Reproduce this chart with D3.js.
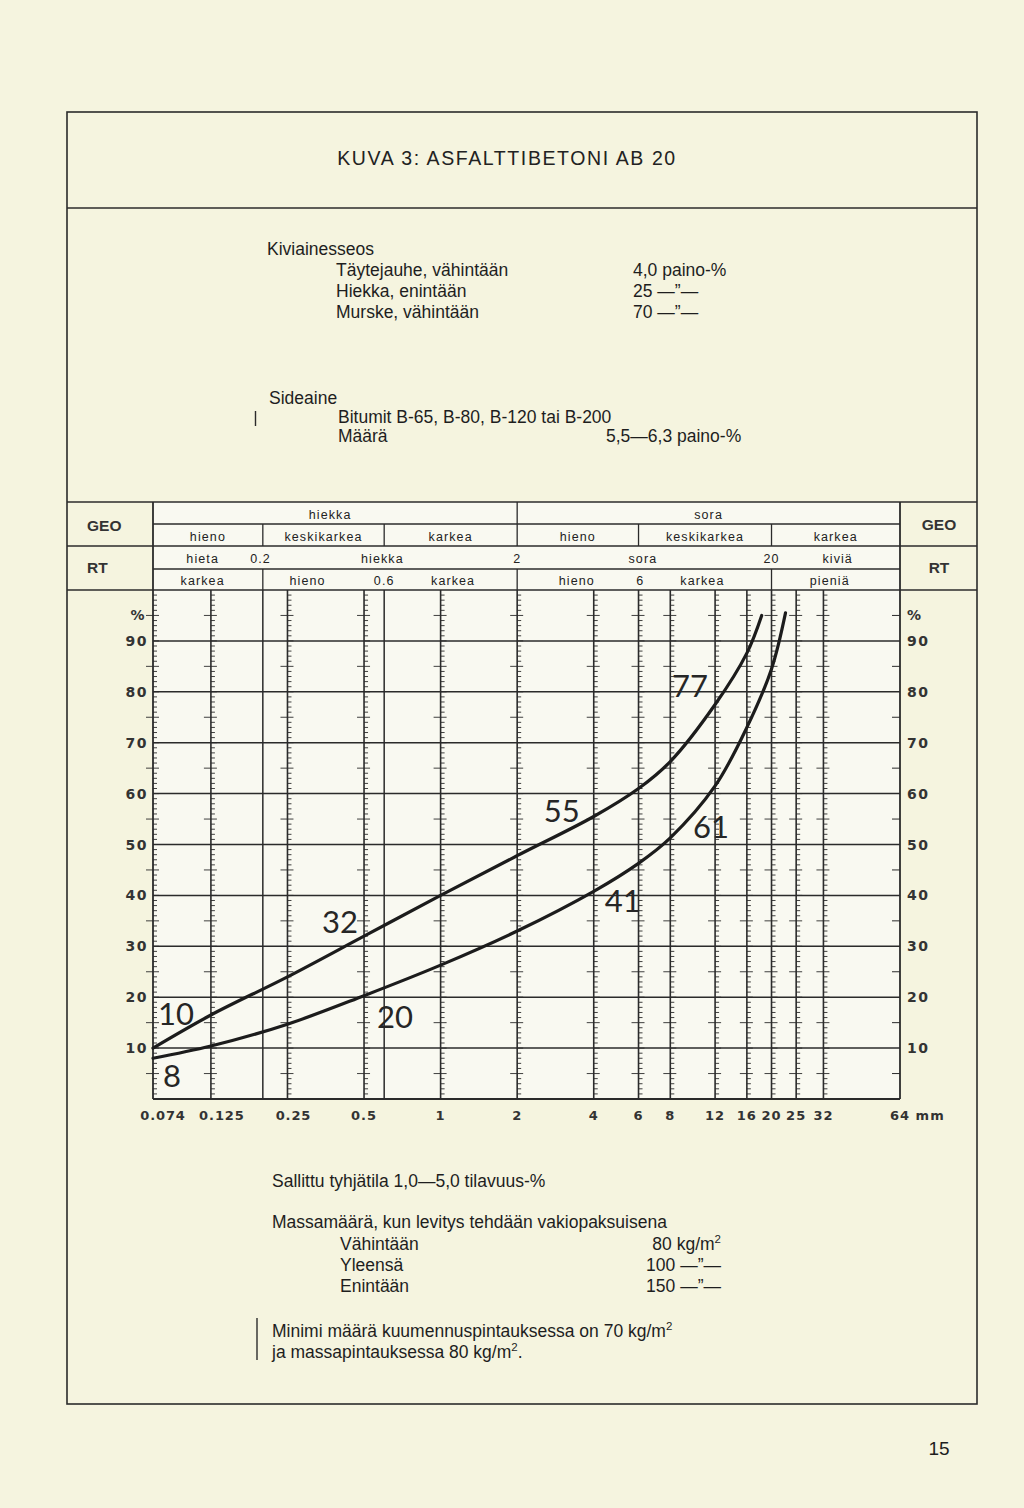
<!DOCTYPE html>
<html><head><meta charset="utf-8">
<script src="https://cdn.jsdelivr.net/npm/d3@7"></script>
<style>body{margin:0;background:#f5f4e0} svg{display:block}</style>
</head><body><svg id="c" width="1024" height="1508"></svg>
<script>
// ---------------- DATA ----------------
const sieveTicks = [0.074,0.125,0.25,0.5,1,2,4,6,8,12,16,20,25,32,64];
const sieveTickLabels = ["0.074","0.125","0.25","0.5","1","2","4","6","8","12","16","20","25","32","64 mm"];
const combSieves = [0.074,0.125,0.25,0.5,1,2,4,6,8,12,16,20,25,32];
const boundarySieves = [0.2,0.6];
const pctGrid = [10,20,30,40,50,60,70,80,90];
const pctLabels = ["10","20","30","40","50","60","70","80","90"];

const upperSizes = [0.074,0.125,0.25,0.5,1,2,4,6,8,12,16,18.3];
const upperPass  = [10,16.5,24,32,40,47.8,55.5,61,66.3,77.5,87.6,95];
const lowerSizes = [0.074,0.125,0.25,0.5,1,2,4,6,8,12,16,20,22.7];
const lowerPass  = [8,10.4,14.7,20.3,26.3,33,40.8,46.3,51.3,61.5,73,84.5,95.5];

const upperLabelSizes = [0.074,0.5,4,12];
const upperLabelTexts = ["10","32","55","77"];
const lowerLabelSizes = [0.074,0.5,4,12];
const lowerLabelTexts = ["8","20","41","61"];

// header table (GEO / RT)
const geoMainTexts = ["hiekka","sora"];
const geoMainBounds = [[0.074,2],[2,64]];
const geoSubTexts = ["hieno","keskikarkea","karkea","hieno","keskikarkea","karkea"];
const geoSubBounds = [0.074,0.2,0.6,2,6,20,64];
const rtTopTexts = ["hieta","0.2","hiekka","2","sora","20","kiviä"];
const rtTopAt    = [0.116,0.196,0.59,2,6.24,20,36.4];
const rtBotTexts = ["karkea","hieno","0.6","karkea","hieno","6","karkea","pieniä"];
const rtBotAt    = [0.116,0.30,0.6,1.12,3.43,6.1,10.7,33.9];
const rtBotDividers = [0.2,2,20];

// ---------------- LAYOUT ----------------
const svg = d3.select("#c");
const ink = "#2b2b2b";
const X0 = 153, X1 = 900, YB = 1099, YT = 590;
const x = d3.scaleLog().base(2).domain([0.074,64]).range([X0,X1]);
const y = d3.scaleLinear().domain([0,100]).range([YB,YT]);
const sans = "'Liberation Sans', Arial, Helvetica, sans-serif";
const geo = "'DejaVu Sans', Verdana, sans-serif";

svg.append("rect").attr("width",1024).attr("height",1508).attr("fill","#f5f4df");
svg.append("rect").attr("x",X0).attr("y",502).attr("width",X1-X0).attr("height",YB-502).attr("fill","#f9f9f1");

function line(x1,y1,x2,y2,w){ svg.append("line").attr("x1",x1).attr("y1",y1).attr("x2",x2).attr("y2",y2).attr("stroke",ink).attr("stroke-width",w||1.5); }

// page frame
const FL = 67, FR = 977, FT = 112, FB = 1404;
svg.append("rect").attr("x",FL).attr("y",FT).attr("width",FR-FL).attr("height",FB-FT).attr("fill","none").attr("stroke",ink).attr("stroke-width",1.6);
line(FL,208,FR,208,1.6);

// title
svg.append("text").attr("x",507).attr("y",165).attr("text-anchor","middle")
  .attr("font-family",sans).attr("font-size",19.5).attr("letter-spacing",1.6).attr("fill","#222")
  .text("KUVA 3: ASFALTTIBETONI AB 20");

// text blocks
function txt(tx,ty,s,opt){
  opt = opt||{};
  const t = svg.append("text").attr("x",tx).attr("y",ty).attr("font-family",sans)
    .attr("font-size",opt.size||17.5).attr("fill","#1e1e1e").attr("text-anchor",opt.anchor||"start");
  if (opt.sup){ t.append("tspan").text(s); t.append("tspan").attr("dy",-7).attr("font-size",11.5).text("2");
    if (opt.after) t.append("tspan").attr("dy",7).text(opt.after); }
  else t.text(s);
  return t;
}
txt(267,255,"Kiviainesseos");
txt(336,276,"Täytejauhe, vähintään"); txt(633,276,"4,0 paino-%");
txt(336,297,"Hiekka, enintään");      txt(633,297,"25 \u2014\u201D\u2014");
txt(336,318,"Murske, vähintään");     txt(633,318,"70 \u2014\u201D\u2014");
txt(269,404,"Sideaine");
txt(338,423,"Bitumit B-65, B-80, B-120 tai B-200");
txt(338,442,"Määrä"); txt(606,442,"5,5\u20146,3 paino-%");
line(255.5,411,255.5,426,1.4);

txt(272,1187,"Sallittu tyhjätila 1,0\u20145,0 tilavuus-%");
txt(272,1228,"Massamäärä, kun levitys tehdään vakiopaksuisena");
txt(340,1250,"Vähintään"); txt(721,1250,"80 kg/m",{anchor:"end",sup:true});
txt(340,1271,"Yleensä");   txt(721,1271,"100 \u2014\u201D\u2014",{anchor:"end"});
txt(340,1292,"Enintään");  txt(721,1292,"150 \u2014\u201D\u2014",{anchor:"end"});
txt(272,1337,"Minimi määrä kuumennuspintauksessa on 70 kg/m",{sup:true});
txt(272,1358,"ja massapintauksessa 80 kg/m",{sup:true,after:"."});
line(257,1318,257,1360,1.4);
txt(939,1455,"15",{anchor:"middle",size:19});

// ---------------- HEADER TABLE ----------------
const R0=502,R1=524,R2=546,R3=569,R4=YT;
line(FL,R0,FR,R0,1.6); line(FL,R2,FR,R2,1.6); line(FL,R4,FR,R4,1.6);
line(X0,R1,X1,R1,1.3); line(X0,R3,X1,R3,1.3);
line(X0,R0,X0,YB,1.8); line(X1,R0,X1,YB,1.8);
line(x(2),R0,x(2),R1,1.3);
geoSubBounds.slice(1,-1).forEach(s=>line(x(s),R1,x(s),R2,1.3));
rtBotDividers.forEach(s=>line(x(s),R3,x(s),R4,1.3));

function stxt(tx,ty,s){ svg.append("text").attr("x",tx).attr("y",ty).attr("text-anchor","middle")
  .attr("font-family",sans).attr("font-size",12.5).attr("letter-spacing",1.1).attr("fill","#222").text(s); }
geoMainTexts.forEach((t,i)=>stxt((x(geoMainBounds[i][0])+x(geoMainBounds[i][1]))/2 - (i===0?5:0),519,t));
geoSubTexts.forEach((t,i)=>stxt((x(geoSubBounds[i])+x(geoSubBounds[i+1]))/2,541,t));
rtTopTexts.forEach((t,i)=>stxt(x(rtTopAt[i]),563,t));
rtBotTexts.forEach((t,i)=>stxt(x(rtBotAt[i]),585,t));

function hdr(tx,ty,s,anchor){ svg.append("text").attr("x",tx).attr("y",ty).attr("text-anchor",anchor)
  .attr("font-family",sans).attr("font-size",15.5).attr("font-weight","bold").attr("fill","#333").text(s); }
hdr(87,531,"GEO","start"); hdr(87,573,"RT","start");
hdr(939,530,"GEO","middle"); hdr(939,573,"RT","middle");

// ---------------- CHART GRID ----------------
const g = svg.append("g");
g.selectAll("line.h").data(pctGrid).join("line")
  .attr("x1",X0).attr("x2",X1).attr("y1",d=>y(d)).attr("y2",d=>y(d))
  .attr("stroke",ink).attr("stroke-width",1.5);
line(X0,YB,X1,YB,1.8);
const minorPct = d3.range(1,100);
combSieves.forEach(s=>{
  const xs = x(s);
  if (s!==0.074) line(xs,YT,xs,YB,1.6);
  g.append("g").selectAll("line").data(minorPct).join("line")
    .attr("x1",d=> (d%5===0 && d%10!==0) ? xs-7 : xs)
    .attr("x2",d=> (d%5===0) ? xs+6 : xs+4)
    .attr("y1",d=>y(d)).attr("y2",d=>y(d))
    .attr("stroke",ink).attr("stroke-width",0.9);
});
boundarySieves.forEach(s=>line(x(s),YT,x(s),YB,1.5));
g.append("g").selectAll("line").data(minorPct.filter(d=>d%5===0 && d%10!==0)).join("line")
  .attr("x1",X1-8).attr("x2",X1).attr("y1",d=>y(d)).attr("y2",d=>y(d))
  .attr("stroke",ink).attr("stroke-width",1);

function axtxt(tx,ty,s,anchor,ls,fs){ svg.append("text").attr("x",tx).attr("y",ty).attr("text-anchor",anchor)
  .attr("font-family",geo).attr("font-size",fs||14).attr("font-weight","bold").attr("letter-spacing",ls==null?1.5:ls).attr("fill","#333").text(s); }
pctGrid.forEach((p,i)=>{ axtxt(148,y(p)+5,pctLabels[i],"end"); axtxt(907,y(p)+5,pctLabels[i],"start"); });
axtxt(146,y(95)+5,"%","end"); axtxt(907,y(95)+5,"%","start");
const labDx = [10,11,6,0,0,0,0,0,0,0,0,0,0,0,0];
sieveTicks.forEach((s,i)=>{
  if (i===sieveTicks.length-1) axtxt(x(s)-10,1120,sieveTickLabels[i],"start",1,13);
  else axtxt(x(s)+labDx[i],1120,sieveTickLabels[i],"middle",i<3?0.9:1,13);
});

// ---------------- CURVES ----------------
const lineGen = d3.line().x(d=>x(d[0])).y(d=>y(d[1])).curve(d3.curveCatmullRom.alpha(0.5));
const upperPts = upperSizes.map((s,i)=>[s,upperPass[i]]);
const lowerPts = lowerSizes.map((s,i)=>[s,lowerPass[i]]);
[upperPts,lowerPts].forEach(pts=>{
  svg.append("path").attr("d",lineGen(pts)).attr("fill","none").attr("stroke","#1c1c1c")
    .attr("stroke-width",3.2).attr("stroke-linecap","round");
});

const upperLabelOffsets = [[5,-23,"start"],[-6,-3,"end"],[-14,5,"end"],[-7,-8,"end"]];
const lowerLabelOffsets = [[10,29,"start"],[13,32,"start"],[11,21,"start"],[-4,52,"middle"]];
function curveLabels(sizes,texts,offs,srcS,srcP){
  sizes.forEach((s,i)=>{
    const p = srcP[srcS.indexOf(s)];
    svg.append("text").attr("x",x(s)+offs[i][0]).attr("y",y(p)+offs[i][1])
      .attr("text-anchor",offs[i][2]).attr("font-family","Lato, 'Open Sans', sans-serif")
      .attr("font-weight",400).attr("font-size",31).attr("fill","#262626").text(texts[i]);
  });
}
curveLabels(upperLabelSizes,upperLabelTexts,upperLabelOffsets,upperSizes,upperPass);
curveLabels(lowerLabelSizes,lowerLabelTexts,lowerLabelOffsets,lowerSizes,lowerPass);
</script></body></html>
